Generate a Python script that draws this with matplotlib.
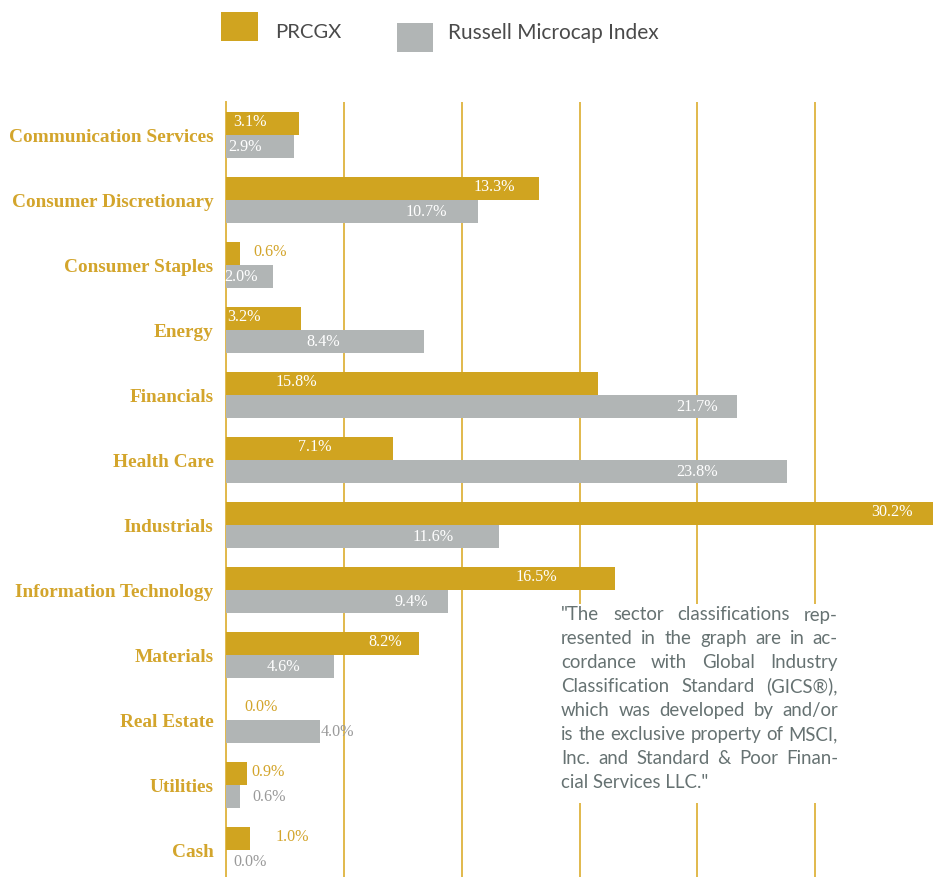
import matplotlib
matplotlib.use("Agg")
import matplotlib.pyplot as plt
from matplotlib.patches import Rectangle
import numpy as np

# ---------------- data ----------------
categories = ["Communication Services", "Consumer Discretionary", "Consumer Staples",
              "Energy", "Financials", "Health Care", "Industrials",
              "Information Technology", "Materials", "Real Estate", "Utilities", "Cash"]
prcgx = [3.1, 13.3, 0.6, 3.2, 15.8, 7.1, 30.2, 16.5, 8.2, 0.0, 0.9, 1.0]
russell = [2.9, 10.7, 2.0, 8.4, 21.7, 23.8, 11.6, 9.4, 4.6, 4.0, 0.6, 0.0]
series_names = ["PRCGX", "Russell Microcap Index"]
x_ticks = [0, 5, 10, 15, 20, 25]
note_lines = ['"The sector classifications rep-',
              'resented in the graph are in ac-',
              'cordance with Global Industry',
              'Classification Standard (GICS\u00ae),',
              'which was developed by and/or',
              'is the exclusive property of MSCI,',
              'Inc. and Standard & Poor Finan-',
              'cial Services LLC."']

# ---------------- layout / style ----------------
gold_label_x = [1.02, 11.37, 1.87, 0.76, 2.97, 3.76, 28.25, 13.15, 6.74, 1.48, 1.78, 2.81]
gray_label_x = [0.81, 8.49, 0.64, 4.12, 20.0, 19.98, 8.77, 7.86, 2.43, 4.71, 1.85, 1.03]
gold_label_inside = [True, True, False, True, True, True, True, True, True, False, False, False]
gray_label_inside = [True, True, True, True, True, True, True, True, True, False, False, False]

GOLD = "#D0A420"
GOLD_TXT = "#D3A52C"
GRID = "#E1B94C"
GRAY = "#B1B5B5"
GRAY_TXT = "#9A9A9A"
NOTE = "#667272"
LEG_TXT = "#4A4A4A"

W, H = 933, 877
fig = plt.figure(figsize=(W / 100, H / 100), dpi=100)
ax = fig.add_axes([226 / W, 0, (933 - 226) / W, 1 - 102 / H])

n = len(categories)
y = np.arange(n)
bh = 0.354

ax.barh(y - bh / 2, prcgx, height=bh, color=GOLD, zorder=3)
ax.barh(y + bh / 2, russell, height=bh, color=GRAY, zorder=3)

ax.set_xlim(0, 30)
ax.set_ylim(11.415, -0.508)
ax.set_xticks(x_ticks)
ax.tick_params(axis="x", length=0, labelbottom=False)
ax.grid(axis="x", color=GRID, lw=1.4, zorder=0)
ax.set_yticks(y)
ax.set_yticklabels(categories, fontfamily="Liberation Serif", fontweight="bold",
                   fontsize=13.9, color=GOLD_TXT)
ax.tick_params(axis="y", length=0, pad=9)
for s in ["top", "right", "bottom"]:
    ax.spines[s].set_visible(False)
ax.spines["left"].set_color(GRID)
ax.spines["left"].set_linewidth(1.4)

vfont = dict(fontfamily="Liberation Serif", fontsize=11.6, ha="center", va="center", zorder=5)
for i in range(n):
    ax.text(gold_label_x[i], i - bh / 2 - 0.03, f"{prcgx[i]:.1f}%",
            color="white" if gold_label_inside[i] else GOLD_TXT, **vfont)
    ax.text(gray_label_x[i], i + bh / 2, f"{russell[i]:.1f}%",
            color="white" if gray_label_inside[i] else GRAY_TXT, **vfont)

# ---------------- legend ----------------
fig.add_artist(Rectangle((221 / W, 1 - 41 / H), 37 / W, 29 / H, transform=fig.transFigure,
                         color=GOLD, lw=0))
fig.add_artist(Rectangle((397 / W, 1 - 52 / H), 36 / W, 29 / H, transform=fig.transFigure,
                         color=GRAY, lw=0))
fig.text(275 / W, 1 - 33 / H, series_names[0], fontfamily="Lato", fontsize=14.6,
         color=LEG_TXT, va="center", ha="left")
fig.text(448 / W, 1 - 33 / H, series_names[1], fontfamily="Lato", fontsize=15,
         color=LEG_TXT, va="center", ha="left")

# ---------------- note (justified) ----------------
fig.add_artist(Rectangle((553 / W, 1 - 803 / H), 295 / W, 199 / H, transform=fig.transFigure,
                         color="white", lw=0, zorder=1))
fig.canvas.draw()
renderer = fig.canvas.get_renderer()
x0, x1 = 561, 838
y0, dy = 615, 23.9

# pick font size so the widest line (with normal spaces) just fits the column
base = 12.0
probe = [fig.text(0, 0, ln, fontfamily="Lato", fontsize=base) for ln in note_lines[:-1]]
maxw = max(t.get_window_extent(renderer).width for t in probe)
for t in probe:
    t.remove()
fs = base * (x1 - x0) / maxw * 0.99

nkw = dict(fontfamily="Lato", fontsize=fs, color=NOTE, va="center", ha="left", zorder=2)
for k, line in enumerate(note_lines):
    yy = 1 - (y0 + k * dy) / H
    words = line.split(" ")
    if k == len(note_lines) - 1 or len(words) == 1:
        fig.text(x0 / W, yy, line, **nkw)
        continue
    texts = [fig.text(0, yy, w, **nkw) for w in words]
    widths = [t.get_window_extent(renderer).width for t in texts]
    gap = (x1 - x0 - sum(widths)) / (len(words) - 1)
    xx = x0
    for t, w in zip(texts, widths):
        t.set_position((xx / W, yy))
        xx += w + gap

fig.savefig("out.png", dpi=100)
